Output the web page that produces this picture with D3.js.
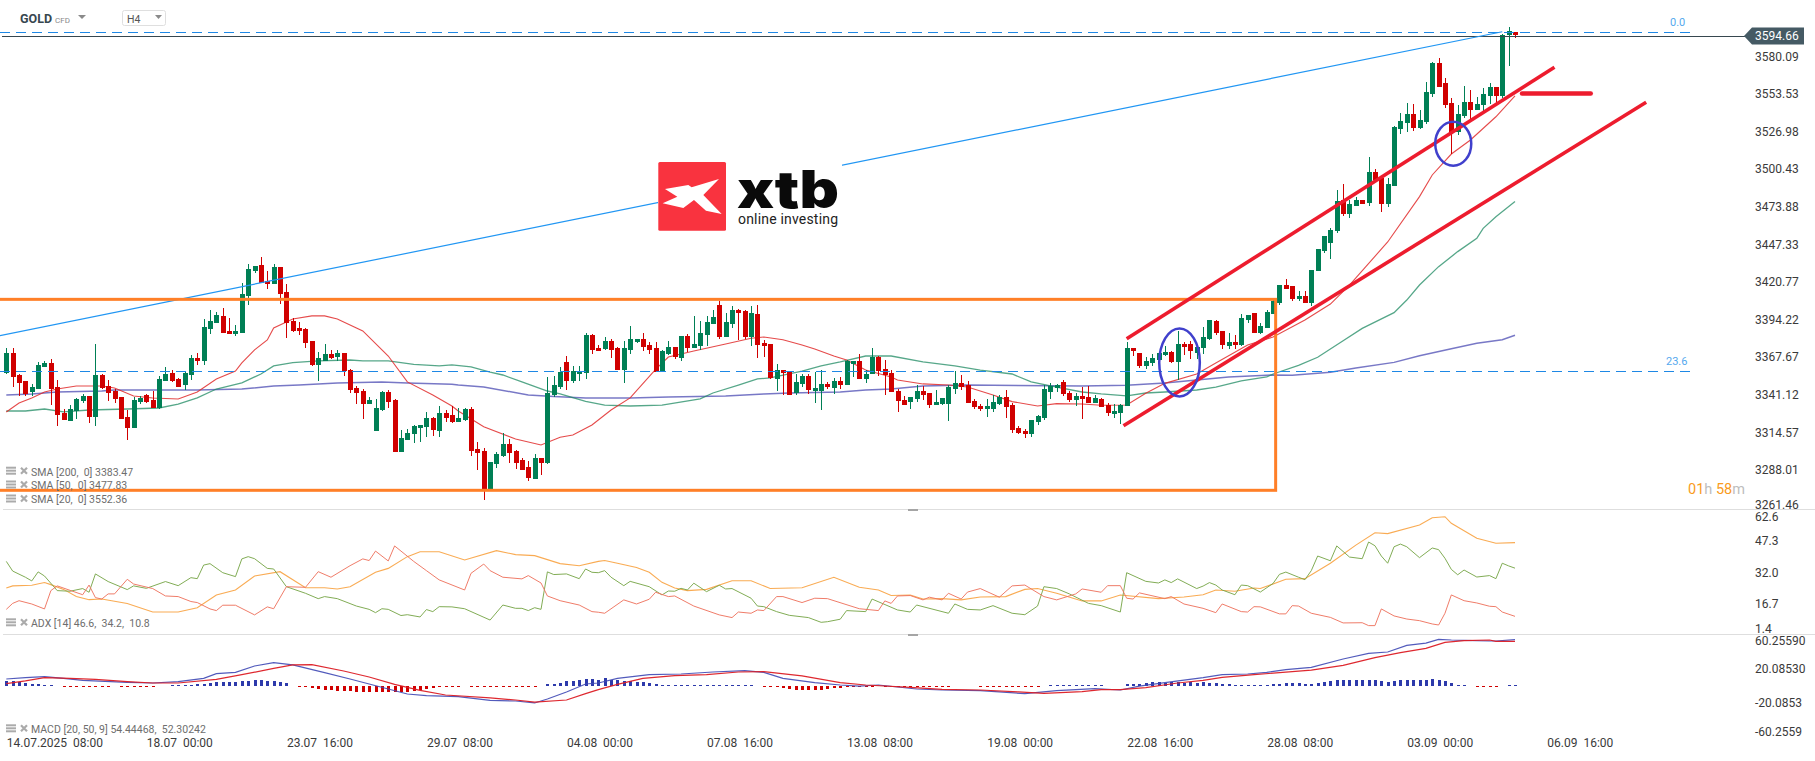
<!DOCTYPE html>
<html>
<head>
<meta charset="utf-8">
<title>GOLD H4</title>
<script src="https://cdn.jsdelivr.net/npm/d3@7"></script>
<style>
    html, body { margin: 0; padding: 0; background: #fff; overflow: hidden; }
    svg { display: block; font-family: Roboto, sans-serif; }
    text { white-space: pre; }
    .axis path, .axis line { display: none; }
    .axis text { font-family: Roboto, sans-serif; font-size: 12px; fill: #3a3a3a; }
</style>
</head>
<body>
<svg id="chart" width="1815" height="761"></svg>
<script>
// candles (4H bars from 14.07.2025 08:00)
const opens = [
    3357.0,3370.9,3355.4,3351.2,3343.4,3345.5,3361.1,3363.9,3346.9,3328.6,
    3322.9,3330.0,3337.1,3340.6,3325.7,3355.4,3347.6,3344.1,3339.9,3325.7,
    3318.0,3336.4,3341.3,3337.8,3332.1,3351.2,3356.8,3352.6,3348.3,3355.4,
    3367.4,3365.3,3387.9,3392.1,3397.1,3386.5,3384.3,3385.0,3411.2,3428.8,
    3433.1,3421.8,3419.6,3431.6,3414.0,3393.5,3388.6,3387.9,3379.4,3362.5,
    3365.3,3370.2,3368.1,3370.9,3358.9,3346.2,3344.1,3334.9,3315.9,3330.7,
    3343.4,3337.8,3301.0,3309.5,3313.8,3318.0,3318.7,3325.0,3315.9,3328.6,
    3327.2,3322.2,3323.6,3331.4,3303.2,3301.7,3274.9,3292.6,3298.2,3306.7,
    3301.7,3295.4,3290.4,3282.0,3296.8,3293.3,3341.3,3346.9,3364.6,3351.2,
    3356.1,3356.8,3383.6,3374.5,3373.8,3379.4,3374.5,3358.9,3373.1,3378.7,
    3380.8,3376.6,3374.5,3358.2,3370.2,3375.2,3367.4,3382.9,3374.5,3375.9,
    3383.6,3391.4,3404.8,3382.2,3391.4,3401.3,3400.6,3382.2,3398.5,3378.0,
    3377.3,3352.6,3358.9,3357.5,3342.7,3349.1,3354.7,3344.1,3344.1,3349.1,
    3346.2,3351.2,3348.3,3363.2,3365.3,3352.6,3356.1,3368.1,3359.6,3356.8,
    3344.1,3337.8,3336.4,3338.5,3344.1,3342.7,3334.2,3334.9,3334.9,3345.5,
    3349.8,3348.3,3337.1,3333.5,3331.4,3331.4,3334.9,3339.9,3334.2,3318.0,
    3315.9,3313.8,3322.2,3325.0,3343.4,3346.2,3350.5,3342.7,3337.8,3340.6,
    3339.9,3335.6,3338.5,3334.2,3327.9,3328.6,3333.5,3374.5,3370.9,3361.8,
    3363.9,3366.0,3369.5,3371.6,3364.6,3377.3,3377.3,3370.9,3374.5,3380.8,
    3393.5,3386.5,3375.9,3378.7,3376.6,3394.2,3399.2,3385.0,3388.6,3398.5,
    3406.2,3418.9,3418.2,3409.0,3411.2,3406.2,3428.8,3442.9,3448.6,3457.0,
    3478.9,3469.0,3474.7,3478.9,3476.8,3498.7,3494.4,3476.1,3488.8,3529.0,
    3533.3,3539.6,3529.7,3534.0,3553.7,3575.6,3561.5,3547.4,3526.9,3538.2,
    3548.1,3542.5,3546.0,3552.3,3558.7,3552.3,3595.4,3597.5
]
const highs = [
    3374.5,3374.5,3356.1,3351.2,3349.1,3364.6,3365.3,3366.7,3351.9,3331.4,
    3334.2,3339.2,3342.0,3340.6,3377.3,3356.1,3351.9,3345.5,3339.9,3330.7,
    3339.9,3340.6,3342.0,3344.1,3354.7,3361.1,3358.9,3353.3,3358.2,3369.5,
    3370.9,3394.9,3401.3,3399.9,3402.7,3395.6,3390.7,3420.3,3433.8,3432.4,
    3438.7,3428.8,3433.8,3431.6,3419.6,3395.6,3392.8,3388.6,3379.4,3371.6,
    3377.3,3373.1,3373.1,3370.9,3359.6,3347.6,3345.5,3339.9,3338.5,3344.1,
    3344.8,3338.5,3316.6,3317.3,3320.1,3320.1,3329.3,3325.7,3333.5,3330.7,
    3333.5,3332.1,3332.1,3332.8,3308.1,3303.9,3294.0,3301.0,3314.5,3310.2,
    3302.5,3296.8,3294.7,3299.6,3296.8,3354.0,3354.7,3361.1,3368.8,3361.8,
    3361.8,3385.0,3384.3,3376.6,3382.2,3380.8,3375.2,3379.4,3390.0,3380.8,
    3385.0,3378.7,3378.7,3373.1,3379.4,3375.2,3382.9,3384.3,3397.1,3393.5,
    3397.1,3401.3,3407.6,3399.2,3404.1,3402.0,3401.3,3404.1,3404.8,3380.1,
    3377.3,3363.2,3358.9,3357.5,3356.1,3356.1,3356.1,3357.5,3358.9,3350.5,
    3353.3,3354.0,3366.0,3365.3,3370.2,3358.9,3374.5,3368.8,3366.0,3358.9,
    3345.5,3340.6,3339.9,3348.3,3347.6,3342.7,3344.8,3339.2,3348.3,3358.2,
    3355.4,3351.2,3338.5,3334.9,3338.5,3341.3,3341.3,3344.8,3335.6,3319.4,
    3317.3,3323.6,3327.2,3348.3,3349.8,3349.1,3351.9,3344.1,3342.7,3346.9,
    3347.6,3341.3,3339.2,3335.6,3334.9,3334.9,3378.7,3374.5,3370.9,3368.1,
    3370.2,3370.9,3375.9,3372.3,3386.5,3378.7,3379.4,3375.9,3389.3,3394.2,
    3394.2,3386.5,3385.0,3383.6,3398.5,3397.8,3399.2,3392.1,3401.3,3409.7,
    3418.9,3423.2,3418.2,3414.7,3414.7,3429.5,3444.3,3453.5,3458.9,3486.0,
    3490.2,3478.9,3481.0,3478.9,3509.3,3500.8,3494.4,3494.4,3531.1,3540.3,
    3547.4,3546.7,3542.5,3562.2,3576.3,3579.2,3565.0,3551.0,3546.0,3559.4,
    3556.6,3551.6,3558.0,3561.5,3558.7,3596.1,3601.0,3597.5
]
const lows = [
    3356.1,3346.9,3340.8,3340.6,3340.6,3345.5,3361.1,3334.2,3319.4,3323.6,
    3322.9,3324.3,3335.6,3321.5,3319.4,3345.5,3337.1,3335.6,3324.3,3309.5,
    3318.0,3334.9,3335.6,3332.1,3331.4,3351.2,3350.5,3346.9,3344.8,3351.9,
    3362.5,3362.5,3384.3,3392.1,3385.0,3384.3,3382.9,3385.0,3404.8,3427.4,
    3420.3,3416.1,3419.6,3405.5,3381.5,3385.8,3383.6,3374.5,3361.8,3351.2,
    3365.3,3366.7,3365.3,3354.7,3342.7,3334.9,3324.3,3334.9,3315.9,3330.0,
    3332.1,3301.0,3301.0,3309.5,3307.4,3308.1,3311.6,3312.3,3311.6,3322.2,
    3321.5,3322.2,3322.9,3298.2,3288.3,3267.2,3274.9,3289.7,3297.5,3293.3,
    3289.0,3288.3,3280.6,3282.0,3284.8,3292.6,3339.9,3345.5,3344.8,3349.8,
    3351.2,3352.6,3370.2,3372.3,3373.1,3367.4,3358.9,3349.8,3370.2,3378.0,
    3372.3,3370.2,3357.5,3357.5,3369.5,3366.7,3365.3,3371.6,3374.5,3373.1,
    3375.9,3391.4,3380.8,3382.2,3388.6,3380.1,3380.8,3375.9,3367.4,3368.1,
    3352.6,3344.1,3341.3,3341.3,3341.3,3346.9,3342.0,3335.6,3330.7,3345.5,
    3342.0,3345.5,3348.3,3354.0,3352.6,3349.8,3356.1,3354.7,3341.3,3343.4,
    3329.3,3334.2,3331.4,3336.4,3337.8,3332.1,3334.2,3334.2,3322.9,3342.0,
    3344.8,3335.6,3331.4,3330.0,3325.7,3329.3,3334.2,3325.0,3314.5,3313.8,
    3310.9,3311.6,3320.1,3323.6,3338.5,3343.4,3340.6,3336.4,3333.5,3324.3,
    3335.6,3335.6,3332.8,3326.5,3325.0,3320.8,3333.5,3368.8,3360.4,3359.6,
    3361.8,3364.6,3368.8,3363.9,3351.9,3369.5,3366.7,3366.7,3370.2,3380.1,
    3383.6,3373.8,3373.8,3373.8,3375.9,3392.1,3385.0,3384.3,3388.6,3398.5,
    3404.8,3416.1,3407.6,3407.6,3406.2,3404.1,3428.8,3441.3,3437.3,3455.4,
    3467.6,3466.2,3474.7,3476.1,3474.7,3493.0,3470.4,3474.2,3488.8,3525.5,
    3526.9,3527.6,3529.0,3532.6,3551.6,3558.7,3543.9,3511.4,3524.8,3536.8,
    3536.1,3542.5,3541.8,3546.7,3547.4,3550.9,3573.5,3593.3
]
const closes = [
    3370.9,3354.0,3349.8,3342.0,3346.9,3362.5,3363.9,3345.5,3327.2,3323.6,
    3331.4,3338.5,3340.6,3325.7,3355.4,3346.2,3342.7,3338.5,3324.3,3318.0,
    3337.8,3339.2,3336.4,3332.1,3352.6,3356.1,3351.2,3346.9,3356.8,3367.4,
    3365.3,3389.3,3393.5,3397.8,3385.0,3384.3,3386.5,3412.6,3430.2,3432.4,
    3420.3,3419.6,3431.6,3412.6,3392.1,3386.5,3386.5,3378.0,3362.5,3367.4,
    3370.2,3367.4,3370.9,3358.2,3344.8,3342.7,3334.9,3337.8,3332.1,3343.4,
    3336.4,3301.0,3310.9,3314.5,3319.4,3320.1,3325.0,3316.6,3328.6,3325.0,
    3322.2,3325.0,3331.4,3301.7,3300.3,3274.9,3294.0,3299.6,3306.7,3300.3,
    3293.3,3288.3,3282.7,3296.8,3293.3,3342.7,3348.3,3357.5,3351.2,3358.2,
    3358.2,3383.6,3373.1,3372.3,3379.4,3373.1,3358.9,3374.5,3380.8,3380.8,
    3375.2,3373.1,3357.5,3372.3,3375.2,3368.1,3382.9,3374.5,3377.3,3385.0,
    3392.8,3396.4,3382.2,3392.8,3401.3,3399.2,3382.2,3399.2,3376.6,3375.9,
    3353.3,3358.9,3356.8,3341.3,3350.5,3354.7,3344.8,3346.2,3349.1,3346.9,
    3351.2,3348.3,3365.3,3365.3,3352.6,3356.1,3368.1,3358.2,3355.4,3343.4,
    3337.1,3334.2,3339.9,3344.1,3341.3,3334.2,3336.4,3339.2,3346.9,3349.8,
    3346.9,3335.6,3332.8,3331.4,3333.5,3336.4,3339.9,3332.8,3316.6,3314.5,
    3313.8,3323.6,3326.5,3345.5,3347.6,3348.3,3342.0,3337.8,3340.6,3338.5,
    3335.6,3339.2,3332.8,3328.6,3330.0,3334.2,3374.5,3372.3,3361.8,3365.3,
    3367.4,3370.9,3371.6,3364.6,3377.3,3375.2,3372.3,3375.2,3382.2,3394.2,
    3385.0,3376.6,3378.7,3376.6,3395.6,3397.8,3385.0,3390.0,3399.9,3407.6,
    3418.9,3416.1,3409.0,3411.2,3406.2,3429.5,3444.3,3453.5,3457.5,3478.0,
    3469.0,3476.1,3478.9,3476.1,3498.7,3493.0,3476.1,3490.2,3530.4,3534.7,
    3539.6,3529.7,3535.4,3555.2,3575.6,3558.7,3546.0,3526.9,3539.6,3548.1,
    3542.5,3546.7,3553.8,3558.7,3552.3,3595.4,3598.2,3595.4
]

// moving averages, read at the bars where the line visibly bends
const sma20Bars = [0,2,4,6,8,11,15,17,20,23,27,30,33,36,37,39,41,42,45,48,50,52,56,60,63,67,70,71,75,80,84,87,89,92,95,98,102,104,108,113,117,119,122,125,127,130,132,135,139,140,144,148,151,155,158,162,165,169,172,176,179,182,187,190,195,199,204,208,211,217,222,224,227,230,234,237]
const sma20 = [3329.3,3335.6,3339.2,3343.4,3345.5,3347.6,3347.6,3346.2,3340.6,3339.2,3338.5,3343.4,3352.6,3358.2,3363.9,3373.1,3380.1,3388.6,3394.9,3397.1,3397.1,3394.9,3386.5,3368.8,3350.5,3341.3,3333.5,3330.0,3318.9,3310.2,3306.0,3311.4,3313.0,3320.1,3330.7,3339.2,3359.4,3368.1,3372.3,3377.3,3381.3,3382.2,3380.3,3376.6,3373.8,3368.8,3366.0,3358.9,3354.0,3351.9,3349.1,3348.3,3346.9,3341.3,3336.6,3333.5,3335.2,3334.9,3334.0,3334.2,3342.5,3349.5,3356.1,3363.9,3376.6,3382.2,3394.2,3405.5,3418.9,3449.3,3481.3,3496.6,3511.4,3521.3,3537.7,3552.36]
const sma50Bars = [0,3,6,9,13,19,24,27,30,33,37,40,42,45,49,54,56,60,64,68,70,73,76,78,81,85,87,91,94,98,103,109,111,115,118,120,125,128,131,135,139,144,149,153,158,161,165,169,172,176,179,182,187,190,194,198,199,203,206,210,213,218,220,222,225,228,231,232,234,237]
const sma50 = [3330.0,3330.0,3331.4,3329.3,3330.7,3331.4,3332.1,3334.9,3339.2,3345.5,3349.8,3356.1,3361.8,3364.1,3365.3,3366.0,3365.3,3365.3,3362.9,3361.8,3362.5,3361.1,3357.5,3355.4,3350.5,3344.1,3342.0,3336.8,3334.2,3333.5,3334.2,3338.5,3342.7,3348.3,3352.6,3353.3,3358.2,3361.8,3364.6,3368.8,3368.8,3364.6,3361.8,3358.9,3356.1,3350.5,3346.9,3343.4,3342.0,3340.6,3342.7,3343.4,3344.8,3346.9,3351.2,3354.0,3356.1,3362.2,3367.9,3379.6,3388.3,3399.4,3408.3,3418.9,3431.9,3442.5,3451.9,3458.9,3467.1,3477.83]
const sma200Bars = [0,4,8,15,17,20,25,30,37,42,46,52,59,63,70,71,75,82,86,91,98,104,113,119,123,131,135,139,144,151,169,176,182,187,192,199,202,208,212,218,222,227,231,235,237]
const sma200 = [3341.3,3342.0,3343.4,3344.1,3344.8,3344.8,3344.8,3344.8,3345.5,3347.6,3348.3,3349.8,3350.5,3349.8,3348.8,3348.3,3346.9,3341.3,3340.3,3339.2,3339.2,3339.9,3340.6,3342.0,3342.7,3343.4,3344.8,3345.5,3347.6,3348.3,3347.6,3348.1,3349.8,3351.9,3354.0,3355.4,3355.2,3357.3,3360.3,3364.3,3369.0,3374.0,3377.8,3380.3,3383.47]

// ADX panel
const adxBars = [0,1,4,6,7,9,11,13,15,19,23,27,30,33,36,39,43,47,50,52,54,58,60,63,65,68,72,77,80,83,87,90,93,94,96,99,101,103,105,107,110,114,117,120,125,130,134,137,139,142,144,147,150,153,157,160,162,165,169,172,175,181,185,188,190,193,196,197,201,204,208,212,215,217,222,224,226,227,231,234,237]
const adx = [24.6,25.6,25.9,27.2,26.2,23.9,20.4,18.9,19.2,17.0,12.9,12.9,15.0,21.2,23.6,30.4,32.5,24.7,24.7,24.1,25.2,32.2,34.1,39.8,42.2,42.2,38.2,42.7,40.8,40.3,36.4,35.4,37.5,37.9,36.6,34.5,32.2,27.3,24.6,23.3,23.9,28.1,28.1,24.3,24.7,29.8,24.9,23.6,20.9,21.2,19.2,19.4,18.8,20.2,20.4,23.9,24.3,22.0,18.3,18.3,21.2,19.4,20.2,21.3,23.6,23.0,24.6,24.3,28.8,29.1,36.6,45.4,51.4,51.0,55.2,58.7,59.2,56.0,48.7,46.3,46.6]
const diPlusBars = [0,1,3,4,5,6,8,10,12,13,14,16,19,20,22,25,27,29,30,31,32,34,36,37,38,39,41,42,44,47,49,50,52,55,57,58,59,60,62,63,65,66,67,68,70,72,76,78,80,81,82,83,84,85,86,88,90,91,92,93,94,95,97,98,101,103,104,105,106,107,108,110,112,113,114,117,118,119,121,123,126,128,129,131,132,135,136,140,142,143,148,149,151,153,155,158,160,162,163,165,167,170,172,175,176,179,181,182,183,184,187,188,189,190,191,193,194,195,197,199,200,201,203,204,205,206,208,209,211,213,214,215,216,217,218,219,220,222,224,225,226,227,228,229,231,233,234,235,236,237]
const diPlus = [37.5,32.8,29.8,28.0,32.4,30.4,23.3,23.0,24.3,22.5,31.4,27.7,23.8,25.6,24.4,27.7,25.7,29.6,29.1,35.7,36.4,32.0,30.1,38.7,39.8,38.8,34.1,33.8,25.2,22.0,19.4,20.4,19.4,15.8,14.2,12.6,14.5,14.2,11.2,11.6,10.5,14.1,13.1,15.5,15.4,14.5,9.0,16.3,14.7,14.7,13.6,15.0,14.2,32.4,31.1,31.4,29.1,33.8,32.2,32.0,33.0,29.8,25.7,27.8,25.2,21.2,23.1,23.0,24.4,23.6,26.9,22.8,25.9,24.1,24.3,19.6,15.8,15.5,13.1,11.3,10.2,7.9,8.2,9.4,13.6,13.1,19.2,13.9,12.9,16.3,12.3,16.8,14.2,13.9,16.0,12.3,11.6,15.8,25.2,24.3,21.7,17.1,16.0,12.9,32.0,27.8,27.0,28.5,27.2,29.0,24.3,25.5,27.2,26.0,23.6,21.3,26.0,25.7,22.6,26.8,31.2,32.3,29.8,28.6,33.0,40.1,37.8,45.0,39.6,38.8,46.9,45.1,40.1,36.6,44.6,45.9,44.6,39.3,44.0,43.2,39.0,33.6,31.0,33.3,29.9,30.6,29.1,36.6,35.3,34.2]
const diMinusBars = [0,1,2,4,6,7,8,12,13,14,15,16,17,19,20,23,25,27,29,30,32,33,34,36,39,41,42,44,47,49,51,54,56,57,58,60,61,64,66,68,72,73,75,76,78,81,82,84,85,87,90,92,93,94,97,99,101,102,104,105,108,112,114,115,117,118,119,121,122,125,127,129,134,137,138,139,140,142,144,145,147,148,150,151,153,156,158,160,163,165,168,169,172,173,175,176,177,178,182,183,185,188,190,191,194,195,196,197,200,201,202,203,205,208,210,213,214,215,216,218,220,222,224,225,226,227,229,231,233,234,235,237]
const diMinus = [14.2,17.1,18.4,16.8,14.4,23.3,25.6,21.3,26.0,19.9,19.2,21.7,21.7,28.8,26.5,24.3,20.7,20.4,18.0,17.5,14.4,13.6,16.2,16.2,11.5,15.4,14.5,25.2,24.9,32.5,29.8,35.4,38.7,37.9,42.5,37.7,45.0,37.5,33.0,28.5,23.6,31.7,36.2,33.0,29.8,29.0,30.6,27.0,20.7,18.4,16.3,13.1,12.8,12.3,18.8,16.8,19.1,22.5,20.4,20.7,15.8,11.5,10.2,12.9,12.3,13.9,13.6,20.4,20.4,17.5,19.6,19.4,14.5,13.6,18.3,17.1,20.7,20.9,18.8,20.1,18.8,22.0,19.2,22.6,24.3,20.1,25.6,26.0,20.4,18.8,21.7,24.1,22.5,25.7,25.7,19.6,19.2,22.2,19.4,20.4,16.8,14.7,12.6,16.8,13.1,12.9,15.5,15.4,12.0,12.0,16.0,15.8,12.3,10.3,7.6,7.7,6.3,6.3,14.4,11.0,9.5,8.7,7.1,6.6,12.3,21.2,18.4,17.3,15.7,15.5,12.9,10.8]

// MACD panel
const macdBars = [0,3,6,9,12,19,23,27,31,33,36,39,42,45,50,54,57,63,66,71,76,80,83,85,88,91,93,96,101,106,111,116,119,122,127,131,134,137,143,147,153,160,165,171,175,178,182,188,191,195,198,201,205,210,214,217,220,223,225,227,229,233,234,237]
const macdLine = [7.9,9.5,10.7,8.7,6.3,4.0,3.2,4.8,8.7,14.2,15.8,23.3,27.2,24.5,15.4,7.9,2.0,-9.8,-11.8,-13.0,-17.3,-18.1,-20.4,-15.7,-7.4,2.0,3.2,8.7,13.0,13.8,16.2,17.8,15.8,8.7,3.6,0.8,-0.4,0.8,-3.9,-5.1,-5.9,-9.4,-5.9,-3.5,-5.1,-0.4,3.6,9.5,13.0,13.8,15.8,18.9,21.7,31.5,38.2,39.8,47.7,50.4,54.8,54.0,53.6,52.8,52.8,54.44]
const signalBars = [0,3,6,10,14,19,23,27,33,37,42,45,48,53,57,61,65,69,76,80,83,88,91,93,96,100,105,110,115,119,125,131,135,142,147,153,159,163,169,172,175,179,184,188,191,196,200,205,210,215,219,223,226,229,233,234,237]
const signalLine = [2.4,5.6,9.5,8.7,7.5,4.8,3.2,3.2,7.5,13.0,20.5,24.5,24.9,17.4,10.3,1.6,-5.5,-11.0,-14.5,-16.9,-19.3,-16.9,-9.4,-4.7,1.6,8.7,11.9,13.0,16.2,16.6,11.5,3.6,0.8,-1.9,-4.3,-5.1,-7.4,-9.0,-7.0,-4.7,-4.7,-2.3,3.2,6.3,9.8,13.0,15.4,18.5,24.0,33.1,39.0,44.1,51.2,53.2,54.0,52.4,52.3]
const macdHist = [
    5.5,5.5,4,2.8,2.4,1.6,1.2,0.4,0,-0.6,
    -1,-1.2,-1.2,-1.2,-1,-0.8,-0.6,0,-0.8,-1.2,
    -1.6,-1.2,-0.8,-0.8,0,0,0.6,0.8,0.8,1.2,
    1.6,2.4,3.2,4,4.8,4.6,4.4,5.2,5.5,6.5,
    6.5,6,5.5,4.4,3.5,0,-0.4,-1,-3,-4,
    -5,-5.5,-6,-6,-6.5,-7,-7,-7.5,-7.5,-7.5,
    -7.5,-7,-7,-7,-6,-5,-4,-3,-1.5,-1,
    -0.8,-0.6,0,-1,-1.4,-1.4,-1.2,-1,-1,-0.8,
    -0.8,-0.6,-0.6,-0.4,0,1.5,2.5,3.5,5,6,
    7,7.5,7.5,7,9,7,7,6,5,4.5,
    4,3,2,1,0.6,0.4,0.4,0.4,0.4,0.4,
    0.6,0.4,0.6,1,1,1,0.6,0.4,0,-0.6,
    -0.8,-1.5,-3,-4,-5,-5.5,-5.5,-5,-4.5,-3.5,
    -3,-2.5,-1.5,-0.6,-0.4,-0.4,-0.4,0,-0.4,-0.6,
    -0.6,-0.8,-1,-1,-1.2,-1.2,-1,-0.8,-0.6,0,
    0,0,0,-0.4,-0.4,-0.4,-0.4,-0.6,-0.6,-1,
    -1.2,-1.2,-1,0,0.4,0.6,0.8,0.8,1,0.8,
    0.8,0.6,0.4,0,0,0,1.5,2,2.5,3.5,
    4,4,3.5,4,4,3.5,4,3.5,4,3.5,
    3,2,1.6,1,0.8,1,1,0.8,1.2,1.5,
    2.5,3,3,3,2.5,2.5,3,4,5,6.5,
    7,7,7,7,7,7,5.5,4.5,5,6.5,
    6.5,6.5,6.5,6.5,7.5,6.5,5.5,3.5,0.4,0.3,
    0,-0.3,-0.3,-0.4,-1.5,0,0.4,0.6
]

// axes
const priceTicks = [3580.09,3553.53,3526.98,3500.43,3473.88,3447.33,3420.77,3394.22,3367.67,3341.12,3314.57,3288.01,3261.46]
const adxTicks = [62.6,47.3,32.0,16.7,1.4]
const macdTicks = [60.2559,20.0853,-20.0853,-60.2559]
const macdTickLabels = ['60.25590','20.08530','-20.0853','-60.2559']
const timeBars = [0,22,44,66,88,110,132,154,176,198,220,242]
const timeLabels = ['14.07.2025  08:00','18.07  00:00','23.07  16:00','29.07  08:00','04.08  00:00','07.08  16:00','13.08  08:00','19.08  00:00','22.08  16:00','28.08  08:00','03.09  00:00','06.09  16:00']
const smaLegend = ['SMA [200,  0] 3383.47','SMA [50,  0] 3477.83','SMA [20,  0] 3552.36']
const adxLegend = 'ADX [14] 46.6,  34.2,  10.8'
const macdLegend = 'MACD [20, 50, 9] 54.44468,  52.30242'

// drawn annotations, in bar/price units
const lastPrice = 3594.66
const fibLevels = [3597.7, 3358.0]
const fibLabels = ['0.0', '23.6']
const boxBars = [-2, 199.4]
const boxPrices = [3408.8, 3274.0]
const riseBars = [-1, 235]
const risePrices = [3383.2, 3597.7]
const channelUpperBars = [176, 243.2]
const channelUpperPrices = [3381.0, 3572.6]
const channelLowerBars = [175.5, 257.6]
const channelLowerPrices = [3319.6, 3547.9]
const levelBars = [238.1, 248.9]
const levelPrice = 3554.2
const circleBars = [184.3, 227.3]
const circlePrices = [3364.3, 3518.7]

const WIDTH = 1815
const svg = d3.select('#chart')

const xScale = d3.scaleLinear().domain([0, 237]).range([6.3, 1515])
const yPrice = d3.scaleLinear().domain([3580.09, 3261.46]).range([56.7, 508.07])
const yAdx = d3.scaleLinear().domain([32, 16.7]).range([572.7, 604.2])
const yMacd = d3.scaleLinear().domain([0, -20.0853]).range([685.7, 702.7])

function drawLine(bars, values, y, color, width, opacity) {
    const line = d3.line()
        .x(d => xScale(d[0]))
        .y(d => y(d[1]))
    svg.append('path')
        .datum(d3.zip(bars, values))
        .attr('fill', 'none')
        .attr('stroke', color)
        .attr('stroke-width', width)
        .attr('stroke-opacity', opacity)
        .attr('d', line)
}

// panel separators
const separators = [509.5, 634.5]
svg.selectAll('.sep').data(separators).enter().append('line')
    .attr('x1', 3).attr('x2', WIDTH)
    .attr('y1', d => d).attr('y2', d => d)
    .attr('stroke', '#dedede')
svg.selectAll('.grip').data(separators).enter().append('rect')
    .attr('x', 908).attr('y', d => d - 0.5)
    .attr('width', 10).attr('height', 2)
    .attr('fill', '#a5a5a5')

// moving averages go under the candles
drawLine(sma200Bars, sma200, yPrice, '#3f3fae', 1.5, 0.7)
drawLine(sma50Bars, sma50, yPrice, '#1d8a62', 1.3, 0.75)
drawLine(sma20Bars, sma20, yPrice, '#e02a2a', 1.1, 0.85)

// candles
const UP = '#007f55', DOWN = '#d00000'
const candles = svg.append('g').attr('shape-rendering', 'crispEdges')
opens.forEach((open, i) => {
    const close = closes[i]
    const color = close >= open ? UP : DOWN
    const cx = Math.round(xScale(i))
    candles.append('rect')
        .attr('x', cx - 0.5).attr('width', 1)
        .attr('y', yPrice(highs[i]))
        .attr('height', yPrice(lows[i]) - yPrice(highs[i]))
        .attr('fill', color)
    candles.append('rect')
        .attr('x', cx - 2.5).attr('width', 5)
        .attr('y', yPrice(Math.max(open, close)))
        .attr('height', Math.max(1, Math.abs(yPrice(open) - yPrice(close))))
        .attr('fill', color)
})

// fibonacci levels and last price
const crisp = v => Math.round(v) + 0.5
svg.selectAll('.fib').data(fibLevels).enter().append('line')
    .attr('x1', 0).attr('x2', 1691)
    .attr('y1', d => crisp(yPrice(d))).attr('y2', d => crisp(yPrice(d)))
    .attr('stroke', '#1e88e5')
    .attr('stroke-width', 1)
    .attr('stroke-dasharray', '10 6')
svg.selectAll('.fibLabel').data(fibLabels).enter().append('text')
    .attr('x', d => d === '0.0' ? 1670 : 1666)
    .attr('y', (d, i) => yPrice(fibLevels[i]) - 6)
    .attr('font-size', 11)
    .attr('fill', '#55a9ee')
    .text(d => d)
svg.append('line')
    .attr('x1', 2).attr('x2', 1745)
    .attr('y1', crisp(yPrice(lastPrice))).attr('y2', crisp(yPrice(lastPrice)))
    .attr('stroke', '#37474f')
    .attr('stroke-width', 1)

// rise line
svg.append('line')
    .attr('x1', xScale(riseBars[0])).attr('x2', xScale(riseBars[1]))
    .attr('y1', yPrice(risePrices[0])).attr('y2', yPrice(risePrices[1]))
    .attr('stroke', '#2196f3')
    .attr('stroke-width', 1.2)

// orange box
svg.append('rect')
    .attr('x', xScale(boxBars[0])).attr('y', yPrice(boxPrices[0]))
    .attr('width', xScale(boxBars[1]) - xScale(boxBars[0]))
    .attr('height', yPrice(boxPrices[1]) - yPrice(boxPrices[0]))
    .attr('fill', 'none')
    .attr('stroke', '#ff7f27')
    .attr('stroke-width', 3)

// channel
function channel(bars, prices) {
    svg.append('line')
        .attr('x1', xScale(bars[0])).attr('x2', xScale(bars[1]))
        .attr('y1', yPrice(prices[0])).attr('y2', yPrice(prices[1]))
        .attr('stroke', '#ed1c2e')
        .attr('stroke-width', 3.6)
}
channel(channelUpperBars, channelUpperPrices)
channel(channelLowerBars, channelLowerPrices)
svg.append('line')
    .attr('x1', xScale(levelBars[0])).attr('x2', xScale(levelBars[1]))
    .attr('y1', yPrice(levelPrice)).attr('y2', yPrice(levelPrice))
    .attr('stroke', '#ed1c2e')
    .attr('stroke-width', 4.5)
    .attr('stroke-linecap', 'round')

// circles around the retests
const circleRadii = [[20.3, 34], [18, 22]]
svg.selectAll('.ring').data(circleBars).enter().append('ellipse')
    .attr('cx', d => xScale(d))
    .attr('cy', (d, i) => yPrice(circlePrices[i]))
    .attr('rx', (d, i) => circleRadii[i][0])
    .attr('ry', (d, i) => circleRadii[i][1])
    .attr('fill', 'none')
    .attr('stroke', '#4040cc')
    .attr('stroke-width', 2.5)

// logo
const logo = svg.append('g')
logo.append('rect').attr('x', 658).attr('y', 161).attr('width', 184).attr('height', 71).attr('fill', '#fff')
logo.append('rect').attr('x', 658.3).attr('y', 162).attr('width', 67.7).attr('height', 68.7).attr('rx', 1.5).attr('fill', '#f9333f')
logo.append('polygon')
    .attr('transform', 'translate(620,140) scale(0.3333)')
    .attr('points', '135,147 205,135 215,142 297,117 250,165 305,222 258,212 222,180 190,204 128,190 172,170')
    .attr('fill', '#fff')
logo.append('text')
    .attr('x', 737).attr('y', 208)
    .attr('font-family', 'Inter, Roboto, sans-serif')
    .attr('font-size', 52).attr('font-weight', 900)
    .attr('textLength', 102).attr('lengthAdjust', 'spacingAndGlyphs')
    .attr('fill', '#0a0a0a')
    .text('xtb')
logo.append('text')
    .attr('x', 738).attr('y', 224)
    .attr('font-size', 14).attr('fill', '#222')
    .attr('textLength', 100)
    .text('online investing')

// ADX and MACD panels
drawLine(adxBars, adx, yAdx, '#f9a64a', 1.1, 0.95)
drawLine(diPlusBars, diPlus, yAdx, '#7aa84c', 1, 0.95)
drawLine(diMinusBars, diMinus, yAdx, '#ee7561', 1, 0.95)

svg.append('g').attr('shape-rendering', 'crispEdges')
    .selectAll('rect').data(macdHist.map((v, i) => [i, v]).filter(d => d[1] !== 0)).enter().append('rect')
    .attr('x', d => Math.round(xScale(d[0])) - 1.5)
    .attr('width', 3)
    .attr('y', d => d[1] > 0 ? yMacd(d[1]) : yMacd(0))
    .attr('height', d => Math.max(1, Math.abs(yMacd(d[1]) - yMacd(0))))
    .attr('fill', d => d[1] > 0 ? '#2d3aab' : '#d00000')

drawLine(macdBars, macdLine, yMacd, '#3f49b5', 1.2, 0.9)
drawLine(signalBars, signalLine, yMacd, '#dc1c24', 1.2, 0.95)

// right hand axes
function clampTicks(g, top, bottom, y) {
    g.selectAll('.tick')
        .attr('transform', d => 'translate(0,' + Math.max(top, Math.min(bottom, y(d))) + ')')
}
svg.append('g').attr('class', 'axis')
    .attr('transform', 'translate(1755,0)')
    .call(d3.axisRight(yPrice).tickValues(priceTicks).tickSize(0).tickPadding(0).tickFormat(d3.format('.2f')))
    .call(clampTicks, 40, 505, yPrice)
svg.append('g').attr('class', 'axis')
    .attr('transform', 'translate(1755,0)')
    .call(d3.axisRight(yAdx).tickValues(adxTicks).tickSize(0).tickPadding(0).tickFormat(d3.format('.1f')))
    .call(clampTicks, 516.7, 629.3, yAdx)
svg.append('g').attr('class', 'axis')
    .attr('transform', 'translate(1755,0)')
    .call(d3.axisRight(yMacd).tickValues(macdTicks).tickSize(0).tickPadding(0).tickFormat((d, i) => macdTickLabels[i]))
    .call(clampTicks, 641.3, 731.7, yMacd)

// time axis, labels start at their bar
svg.append('g').attr('class', 'axis')
    .attr('transform', 'translate(0,738)')
    .call(d3.axisBottom(xScale).tickValues(timeBars).tickSize(0).tickPadding(0).tickFormat((d, i) => timeLabels[i]))
    .selectAll('text').attr('text-anchor', 'start').attr('dy', '0.71em')

// last price tag
const tagY = yPrice(lastPrice)
svg.append('polygon')
    .attr('points', [[1744, tagY], [1752, tagY - 8.5], [1804, tagY - 8.5], [1804, tagY + 8.5], [1752, tagY + 8.5]].join(' '))
    .attr('fill', '#455a64')
svg.append('text')
    .attr('x', 1755).attr('y', tagY + 4.3)
    .attr('font-size', 12).attr('fill', '#fff')
    .text(lastPrice.toFixed(2))

// header
svg.append('text').attr('x', 20).attr('y', 23).attr('font-size', 12.5).attr('font-weight', 700).attr('fill', '#37474f').text('GOLD')
svg.append('text').attr('x', 55).attr('y', 23).attr('font-size', 8).attr('fill', '#8a8a8a').text('CFD')
svg.append('path').attr('d', 'M78,15 h8 l-4,4 z').attr('fill', '#8a8a8a')
svg.append('rect').attr('x', 122.5).attr('y', 10.5).attr('width', 43).attr('height', 15).attr('rx', 2).attr('fill', '#fff').attr('stroke', '#dfdfdf')
svg.append('text').attr('x', 127).attr('y', 23).attr('font-size', 10.5).attr('fill', '#555').text('H4')
svg.append('path').attr('d', 'M155,15 h7 l-3.5,4 z').attr('fill', '#8a8a8a')

// legend rows with their two small icons
function legendRow(y, label) {
    const g = svg.append('g').attr('transform', 'translate(6,' + y + ')')
    ;[-5, -2, 1].forEach(dy => {
        g.append('rect').attr('x', 0).attr('y', dy).attr('width', 10).attr('height', 2).attr('fill', '#ababab')
    })
    g.append('path')
        .attr('d', 'M15,-4 L21,2 M21,-4 L15,2')
        .attr('stroke', '#ababab')
        .attr('stroke-width', 2.2)
    g.append('text')
        .attr('x', 25).attr('y', 3.8)
        .attr('font-size', 10.5)
        .attr('fill', '#6e6e6e')
        .text(label)
}
const smaLegendY = [471.7, 485.5, 499.5]
smaLegend.forEach((label, i) => legendRow(smaLegendY[i], label))
legendRow(623.3, adxLegend)
legendRow(729.3, macdLegend)

// candle countdown
const countdown = svg.append('text').attr('x', 1688).attr('y', 494).attr('font-size', 14.5)
countdown.append('tspan').attr('fill', '#f99b1c').text('01')
countdown.append('tspan').attr('fill', '#bdbdbd').text('h ')
countdown.append('tspan').attr('fill', '#f99b1c').text('58')
countdown.append('tspan').attr('fill', '#bdbdbd').text('m')
</script>
</body>
</html>
